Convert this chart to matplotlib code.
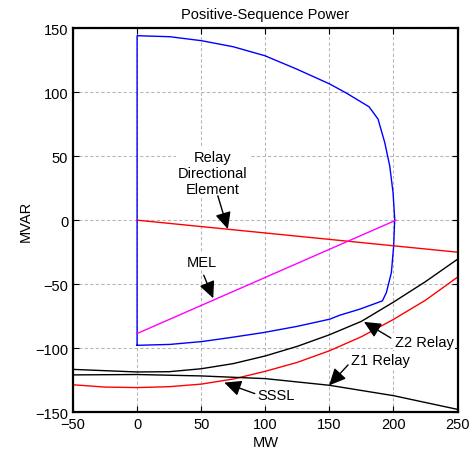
import numpy as np
import matplotlib.pyplot as plt

plt.rcParams['font.family'] = ['Liberation Sans', 'DejaVu Sans']
plt.rcParams['font.size'] = 10.5

# generator capability curve (blue), traced clockwise from bottom-left corner
cap_mw = [0, 0, 25.6, 50.3, 74.9, 99.6, 124.4, 150.3, 163.3, 181, 188, 193.2, 197.1, 199.7, 201,
          200.2, 198.4, 194.5, 191.4, 173.7, 158.1, 150.3, 124.4, 98.3, 72.4, 50.3, 25.6, 0]
cap_mvar = [-97.7, 144, 143.2, 140.1, 135.4, 128.4, 118, 106.3, 99.2, 88.5, 78.9, 60.7, 42.4, 21.6, 0.8,
            -20, -40.9, -56.5, -63, -69.5, -74.2, -77.3, -83, -87.8, -91.7, -94.8, -97, -97.7]

# relay directional element (red straight line)
dir_mw = [0, 250]
dir_mvar = [0, -25]

# minimum excitation limiter (magenta)
mel_mw = [0, 202]
mel_mvar = [-88.5, 0]

# Z2 relay (black)
z2_mw = [-50, -25, 0, 25, 50, 75, 100, 125, 150, 175, 200, 225, 250]
z2_mvar = [-116.5, -117.5, -118.5, -118.3, -116, -112, -106, -98.5, -89.5, -79, -64, -48, -30.5]

# Z1 relay (red)
z1_mw = [-50, -25, 0, 25, 50, 75, 100, 125, 150, 175, 200, 225, 250]
z1_mvar = [-128.5, -130.3, -130.7, -130, -128, -124, -118, -111, -102, -91, -77.5, -62.5, -44.5]

# steady-state stability limit (black)
sssl_mw = [-50, 0, 50, 100, 150, 200, 250]
sssl_mvar = [-120.8, -120.5, -121.6, -123.7, -128.9, -137, -147.7]

fig = plt.figure(figsize=(4.72, 4.52), dpi=100)
ax = fig.add_axes([0.1547, 0.0856, 0.9693 - 0.1547, 0.9358 - 0.0856])

ax.plot(cap_mw, cap_mvar, color='blue', lw=1)
ax.plot(dir_mw, dir_mvar, color='red', lw=1)
ax.plot(mel_mw, mel_mvar, color='magenta', lw=1)
ax.plot(z2_mw, z2_mvar, color='black', lw=1)
ax.plot(z1_mw, z1_mvar, color='red', lw=1)
ax.plot(sssl_mw, sssl_mvar, color='black', lw=1)

ax.set_xlim(-50, 250)
ax.set_ylim(-150, 150)
ax.set_xticks(np.arange(-50, 251, 50))
ax.set_yticks(np.arange(-150, 151, 50))
ax.grid(True, ls=(0, (3, 2)), color='#b8b8b8', lw=0.8)
ax.tick_params(direction='in', length=4, top=True, right=True, labelsize=10.5)
for sp in ax.spines.values():
    sp.set_linewidth(1.6)

ax.set_title('Positive-Sequence Power', fontsize=10.5, pad=7)
ax.set_xlabel('MW', fontsize=10.5, labelpad=3)
ax.set_ylabel('MVAR', fontsize=10.5, labelpad=2)

arr = dict(arrowstyle='-|>,head_length=0.85,head_width=0.4', color='black', lw=1,
           shrinkA=0, shrinkB=0, mutation_scale=12)
box = dict(facecolor='white', edgecolor='none', pad=1)

ax.text(59, 37, 'Relay\nDirectional\nElement', ha='center', va='center',
        bbox=box, linespacing=1.2)
ax.annotate('', xy=(70.8, -7), xytext=(63, 19), arrowprops=arr)

ax.text(50.3, -32.3, 'MEL', ha='center', va='center', bbox=box)
ax.annotate('', xy=(59.4, -61), xytext=(52, -43), arrowprops=arr)

ax.text(224, -95, 'Z2 Relay', ha='center', va='center', bbox=box)
ax.annotate('', xy=(177, -79.4), xytext=(198, -92), arrowprops=arr)

ax.text(190, -109, 'Z1 Relay', ha='center', va='center', bbox=box)
ax.annotate('', xy=(149.8, -129), xytext=(164.6, -113), arrowprops=arr)

ax.text(108.7, -136.7, 'SSSL', ha='center', va='center', bbox=box)
ax.annotate('', xy=(68, -126.8), xytext=(91.8, -135.4), arrowprops=arr)

fig.savefig('out.png', dpi=100)
